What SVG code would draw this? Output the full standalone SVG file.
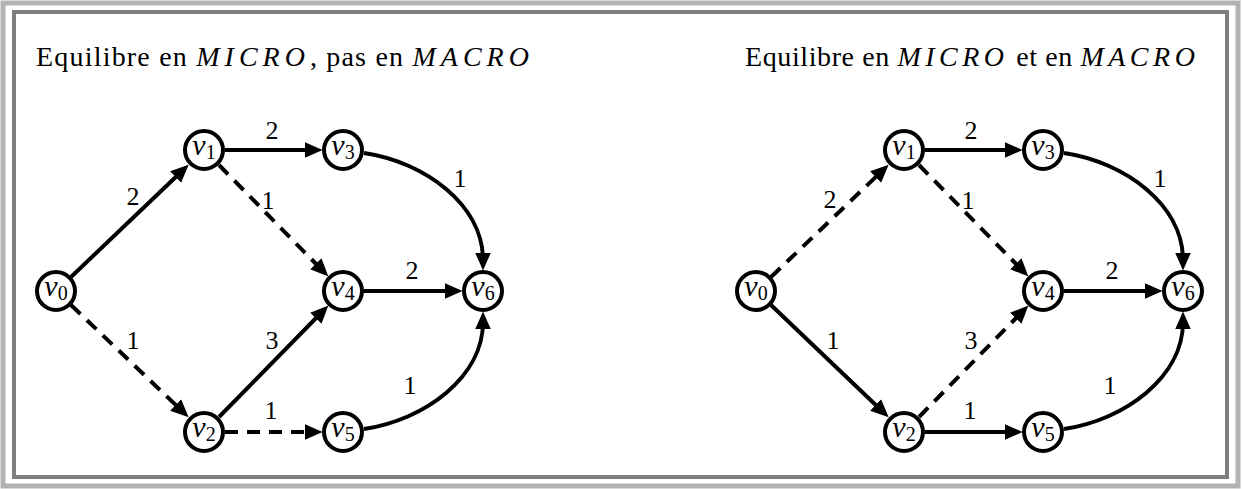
<svg xmlns="http://www.w3.org/2000/svg" width="1243" height="489" viewBox="0 0 1243 489">
<style>
.frame1{fill:none;stroke:#b3b3b3;stroke-width:5}
.frame2{fill:none;stroke:#808080;stroke-width:4}
.node circle{fill:#fff;stroke:#000;stroke-width:4}
.lbl{font-family:"Liberation Serif","DejaVu Serif",serif;font-size:26px;fill:#000;text-anchor:middle}
.nl{font-family:"Liberation Serif","DejaVu Serif",serif;font-size:30px;fill:#000;text-anchor:middle}
.nl .v{font-style:italic}
.nl .s{font-size:20px}
.title{font-family:"Liberation Serif","DejaVu Serif",serif;font-size:28px;fill:#000}
.t1{letter-spacing:1.2px}
.t2{letter-spacing:0.6px}
.t1 .m{font-style:italic;letter-spacing:5px}
.t2 .m{font-style:italic;letter-spacing:4.5px}
.e{fill:none;stroke:#000;stroke-width:4;marker-end:url(#arr)}
.d{stroke-dasharray:13 9}
</style>
<defs>
<marker id="arr" markerUnits="userSpaceOnUse" markerWidth="18" markerHeight="16" refX="7" refY="7.5" orient="auto" viewBox="0 0 17 15">
<path d="M0,0 L17,7.5 L0,15 z" fill="#000"/>
</marker>
</defs>
<rect width="1243" height="489" fill="#fff"/>
<rect class="frame1" x="3" y="3" width="1235" height="483"/>
<rect class="frame2" x="14" y="12" width="1213" height="465"/>
<text class="title t1" x="36" y="66">Equilibre en <tspan class="m">MICRO</tspan>, pas en <tspan class="m">MACRO</tspan></text>
<text class="title t2" x="745" y="66">Equilibre en <tspan class="m">MICRO</tspan> et en <tspan class="m">MACRO</tspan></text>
<g id="connectors">
<g id="left-edges">
<path class="e" d="M71,277 L181,172"/>
<path class="e d" d="M71,305 L181,410"/>
<path class="e" d="M225,150 L312,150"/>
<path class="e d" d="M219,165 L321,269"/>
<path class="e" d="M219,417 L321,313"/>
<path class="e d" d="M225,432 L312,432"/>
<path class="e" d="M364,153 C425,162 483,205 483,260"/>
<path class="e" d="M364,291 L452,291"/>
<path class="e" d="M364,429 C425,420 483,377 483,322"/>
</g>
<g id="right-edges">
<path class="e d" d="M771,277 L881,172"/>
<path class="e" d="M771,305 L881,410"/>
<path class="e" d="M925,150 L1012,150"/>
<path class="e d" d="M919,165 L1021,269"/>
<path class="e d" d="M919,417 L1021,313"/>
<path class="e" d="M925,432 L1012,432"/>
<path class="e" d="M1064,153 C1125,162 1183,205 1183,260"/>
<path class="e" d="M1064,291 L1152,291"/>
<path class="e" d="M1064,429 C1125,420 1183,377 1183,322"/>
</g>
</g>
<g id="edge-labels">
<text class="lbl" x="133" y="205">2</text>
<text class="lbl" x="133" y="349">1</text>
<text class="lbl" x="272" y="139">2</text>
<text class="lbl" x="268" y="209">1</text>
<text class="lbl" x="272" y="349">3</text>
<text class="lbl" x="271" y="419">1</text>
<text class="lbl" x="460" y="187">1</text>
<text class="lbl" x="412" y="279">2</text>
<text class="lbl" x="410" y="394">1</text>
<text class="lbl" x="830" y="208">2</text>
<text class="lbl" x="833" y="349">1</text>
<text class="lbl" x="971" y="139">2</text>
<text class="lbl" x="968" y="209">1</text>
<text class="lbl" x="971" y="349">3</text>
<text class="lbl" x="970" y="419">1</text>
<text class="lbl" x="1160" y="187">1</text>
<text class="lbl" x="1112" y="279">2</text>
<text class="lbl" x="1110" y="394">1</text>
</g>
<g id="L-v0" class="node"><circle cx="56" cy="291" r="19"/><text class="nl" x="56" y="296"><tspan class="v">v</tspan><tspan class="s" dy="4">0</tspan></text></g>
<g id="L-v1" class="node"><circle cx="204" cy="150" r="19"/><text class="nl" x="204" y="155"><tspan class="v">v</tspan><tspan class="s" dy="4">1</tspan></text></g>
<g id="L-v2" class="node"><circle cx="204" cy="432" r="19"/><text class="nl" x="204" y="437"><tspan class="v">v</tspan><tspan class="s" dy="4">2</tspan></text></g>
<g id="L-v3" class="node"><circle cx="343" cy="150" r="19"/><text class="nl" x="343" y="155"><tspan class="v">v</tspan><tspan class="s" dy="4">3</tspan></text></g>
<g id="L-v4" class="node"><circle cx="343" cy="291" r="19"/><text class="nl" x="343" y="296"><tspan class="v">v</tspan><tspan class="s" dy="4">4</tspan></text></g>
<g id="L-v5" class="node"><circle cx="343" cy="432" r="19"/><text class="nl" x="343" y="437"><tspan class="v">v</tspan><tspan class="s" dy="4">5</tspan></text></g>
<g id="L-v6" class="node"><circle cx="483" cy="291" r="19"/><text class="nl" x="483" y="296"><tspan class="v">v</tspan><tspan class="s" dy="4">6</tspan></text></g>
<g id="R-v0" class="node"><circle cx="756" cy="291" r="19"/><text class="nl" x="756" y="296"><tspan class="v">v</tspan><tspan class="s" dy="4">0</tspan></text></g>
<g id="R-v1" class="node"><circle cx="904" cy="150" r="19"/><text class="nl" x="904" y="155"><tspan class="v">v</tspan><tspan class="s" dy="4">1</tspan></text></g>
<g id="R-v2" class="node"><circle cx="904" cy="432" r="19"/><text class="nl" x="904" y="437"><tspan class="v">v</tspan><tspan class="s" dy="4">2</tspan></text></g>
<g id="R-v3" class="node"><circle cx="1043" cy="150" r="19"/><text class="nl" x="1043" y="155"><tspan class="v">v</tspan><tspan class="s" dy="4">3</tspan></text></g>
<g id="R-v4" class="node"><circle cx="1043" cy="291" r="19"/><text class="nl" x="1043" y="296"><tspan class="v">v</tspan><tspan class="s" dy="4">4</tspan></text></g>
<g id="R-v5" class="node"><circle cx="1043" cy="432" r="19"/><text class="nl" x="1043" y="437"><tspan class="v">v</tspan><tspan class="s" dy="4">5</tspan></text></g>
<g id="R-v6" class="node"><circle cx="1183" cy="291" r="19"/><text class="nl" x="1183" y="296"><tspan class="v">v</tspan><tspan class="s" dy="4">6</tspan></text></g>
</svg>
